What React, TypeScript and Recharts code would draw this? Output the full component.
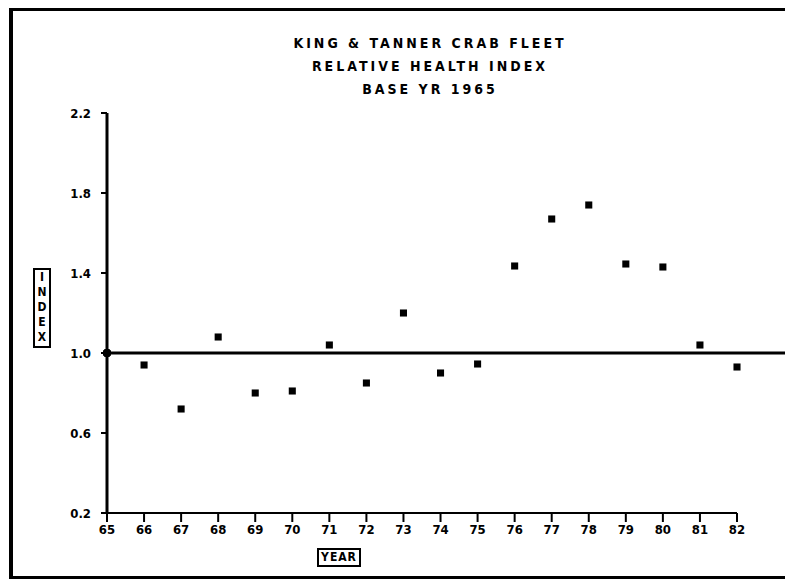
import React from "react";
import {
  ComposedChart,
  Scatter,
  XAxis,
  YAxis,
  ZAxis,
  ReferenceLine,
  ReferenceDot,
} from "recharts";

const years = [66, 67, 68, 69, 70, 71, 72, 73, 74, 75, 76, 77, 78, 79, 80, 81, 82];
const indexValues = [
  0.94, 0.72, 1.08, 0.8, 0.81, 1.04, 0.85, 1.2, 0.9, 0.945, 1.435, 1.67, 1.74,
  1.445, 1.43, 1.04, 0.93,
];
const xTicks = [65, 66, 67, 68, 69, 70, 71, 72, 73, 74, 75, 76, 77, 78, 79, 80, 81, 82];
const yTicks = [0.2, 0.6, 1.0, 1.4, 1.8, 2.2];
const titleLines = ["KING & TANNER CRAB FLEET", "RELATIVE HEALTH INDEX", "BASE YR 1965"];

const points = years.map((year, i) => ({ year, value: indexValues[i] }));

const font = "'DejaVu Sans Condensed', 'DejaVu Sans', sans-serif";

export default function App() {
  return (
    <div
      style={{
        position: "fixed",
        left: 0,
        top: 0,
        width: 785,
        height: 585,
        background: "#fff",
        fontFamily: font,
      }}
    >
      {/* frame: left, top, bottom edges */}
      <div style={{ position: "absolute", left: 9, top: 8, width: 4, height: 571, background: "#000" }} />
      <div style={{ position: "absolute", left: 9, top: 8, width: 776, height: 3, background: "#000" }} />
      <div style={{ position: "absolute", left: 9, top: 576, width: 776, height: 3, background: "#000" }} />

      {/* title */}
      {titleLines.map((t, i) => (
        <div
          key={t}
          style={{
            position: "absolute",
            left: 230,
            width: 400,
            top: 34 + i * 23,
            textAlign: "center",
            fontWeight: "bold",
            fontSize: 14,
            letterSpacing: 3,
            color: "#000",
            lineHeight: "18px",
          }}
        >
          {t}
        </div>
      ))}

      {/* y label */}
      <div
        style={{
          position: "absolute",
          left: 33,
          top: 268,
          width: 14,
          height: 76,
          border: "2px solid #000",
          fontWeight: "bold",
          fontSize: 12,
          lineHeight: "15px",
          textAlign: "center",
          color: "#000",
        }}
      >
        {"INDEX".split("").map((c, i) => (
          <div key={i}>{c}</div>
        ))}
      </div>

      {/* x label */}
      <div
        style={{
          position: "absolute",
          left: 317,
          top: 548,
          width: 40,
          height: 15,
          border: "2px solid #000",
          fontWeight: "bold",
          fontSize: 12,
          lineHeight: "15px",
          textAlign: "center",
          letterSpacing: 1,
          color: "#000",
        }}
      >
        YEAR
      </div>

      <div style={{ position: "absolute", left: 0, top: 0, width: 785, height: 585 }}>
        <ComposedChart
          width={785}
          height={585}
          data={points}
          margin={{ top: 113, right: 48, bottom: 42, left: 57 }}
        >
          <XAxis
            type="number"
            dataKey="year"
            domain={[65, 82]}
            ticks={xTicks}
            interval={0}
            height={30}
            tickSize={9}
            tickMargin={3}
            axisLine={{ stroke: "#000", strokeWidth: 2 }}
            tickLine={{ stroke: "#000", strokeWidth: 2 }}
            tick={{ fill: "#000", fontSize: 13, fontWeight: "bold", fontFamily: font }}
          />
          <YAxis
            type="number"
            dataKey="value"
            domain={[0.2, 2.2]}
            ticks={yTicks}
            interval={0}
            width={50}
            tickSize={6}
            tickMargin={10}
            tickFormatter={(v: number) => v.toFixed(1)}
            axisLine={{ stroke: "#000", strokeWidth: 3 }}
            tickLine={{ stroke: "#000", strokeWidth: 2 }}
            tick={{ fill: "#000", fontSize: 13, fontWeight: "bold", fontFamily: font }}
          />
          <ZAxis range={[50, 50]} />
          <ReferenceLine
            segment={[
              { x: 65, y: 1 },
              { x: 84.3, y: 1 },
            ]}
            ifOverflow="visible"
            stroke="#000"
            strokeWidth={3}
          />
          <ReferenceDot x={65} y={1} r={4} fill="#000" stroke="#000" ifOverflow="visible" />
          <Scatter
            dataKey="value"
            fill="#000"
            shape="square"
            isAnimationActive={false}
          />
        </ComposedChart>
      </div>
    </div>
  );
}
